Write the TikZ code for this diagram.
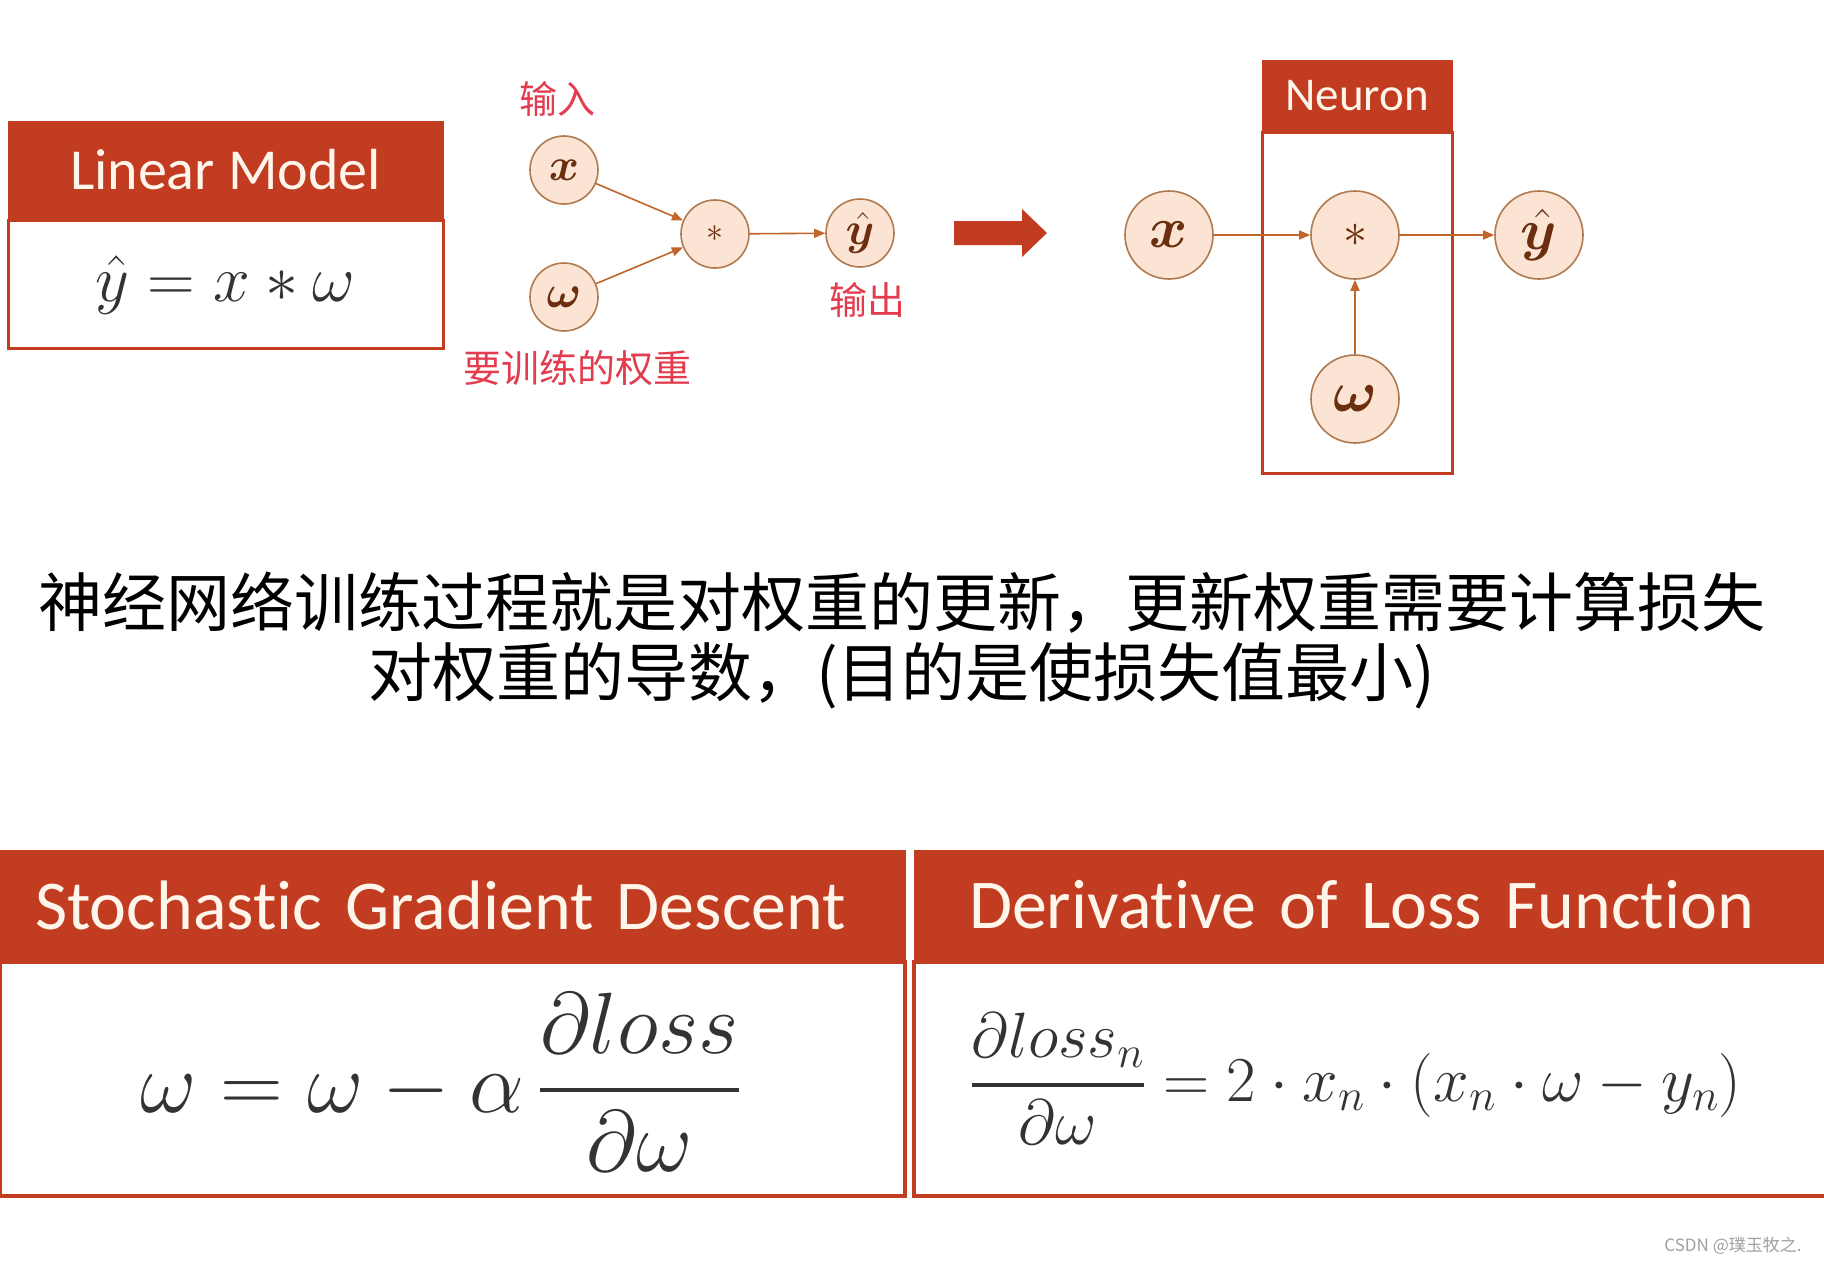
\documentclass[tikz,border=0pt]{standalone}
\usepackage{fix-cm}
\usepackage{amsmath,bm}
\usepackage{fontspec}
\newfontfamily\cjk{Noto Sans CJK SC}
\newfontfamily\hdfont[Ligatures={NoCommon,NoContextual}]{Carlito}
\usetikzlibrary{positioning,arrows.meta}

\definecolor{hdred}{RGB}{194,60,34}
\definecolor{hdtext}{RGB}{255,246,235}
\definecolor{peach}{RGB}{251,228,212}
\definecolor{ringbrown}{RGB}{176,122,80}
\definecolor{arrorange}{RGB}{192,102,42}
\definecolor{glyphbrown}{RGB}{107,46,14}
\definecolor{tagred}{RGB}{226,60,78}
\definecolor{mathgray}{RGB}{51,51,51}

\newcommand\setfs[1]{\fontsize{#1}{#1}\selectfont}

\begin{document}
\begin{tikzpicture}[
    x=1pt, y=-1pt,
    hdr/.style={
        fill=hdred,
        draw=hdred,
        text=hdtext,
        inner sep=0pt
    },
    panel/.style={
        draw=hdred,
        line width=3pt,
        fill=white,
        inner sep=0pt
    },
    unit/.style={
        circle,
        draw=ringbrown,
        fill=peach,
        line width=1.6pt,
        inner sep=0pt,
        text=glyphbrown
    },
    tag/.style={text=tagred, font=\cjk\setfs{38}, inner sep=0pt},
    eq/.style={text=mathgray, inner sep=0pt},
    flow/.style={-{Triangle[length=11pt, width=9pt]}, draw=arrorange, line width=1.6pt}
]
    \useasboundingbox (0,0) rectangle (1824,1264);
    \clip (0,0) rectangle (1824,1264);

    %% Linear Model
    \node[hdr, minimum width=435pt, minimum height=98pt, font=\hdfont\setfs{58}] (lmhead) at (225.5,170) {Linear Model};
    \node[panel, minimum width=435pt, minimum height=128pt, below=0pt of lmhead, text=mathgray, font=\setfs{66}] (lmbody) {$\hat{y} = x * \omega$};

    %% Graph
    \node[unit, minimum size=68pt, font=\setfs{46}] (xin) at (564,170) {$\bm{x}$};
    \node[unit, minimum size=68pt, font=\setfs{46}] (win) at (564,297) {$\bm{\omega}$};
    \node[unit, minimum size=68pt, font=\setfs{34}] (mulin) at (715,234) {$*$};
    \node[unit, minimum size=68pt, font=\setfs{46}] (yin) at (860,233) {$\bm{\hat{y}}$};
    \node[tag] (inlabel) at (557,99) {输入};
    \node[tag] (outlabel) at (867,300) {输出};
    \node[tag] (wlabel) at (577,368) {要训练的权重};

    \draw[flow] (xin) -- (mulin);
    \draw[flow] (win) -- (mulin);
    \draw[flow] (mulin) -- (yin);

    %% Big arrow
    \fill[hdred] (954,221) -- (1022,221) -- (1022,209) -- (1047,233) -- (1022,257) -- (1022,245) -- (954,245) -- cycle;

    %% Neuron
    \node[hdr, minimum width=190pt, minimum height=71pt, font=\hdfont\setfs{47}] (nhead) at (1357,95.5) {Neuron};
    \node[panel, minimum width=190pt, minimum height=341pt, below=0pt of nhead] (nbody) {};

    \node[unit, minimum size=88pt, font=\setfs{58}] (xout) at (1169,235) {$\bm{x}$};
    \node[unit, minimum size=88pt, font=\setfs{48}] (mulout) at (1355,235) {$*$};
    \node[unit, minimum size=88pt, font=\setfs{58}] (yout) at (1539,235) {$\bm{\hat{y}}$};
    \node[unit, minimum size=88pt, font=\setfs{58}] (wout) at (1355,399) {$\bm{\omega}$};

    \draw[flow] (xout) -- (mulout);
    \draw[flow] (mulout) -- (yout);
    \draw[flow] (wout) -- (mulout);

    %% Text
    \node[font=\cjk\fontsize{64}{70}\selectfont, align=center, inner sep=0pt] (summary) at (902,640)
        {神经网络训练过程就是对权重的更新，更新权重需要计算损失\\对权重的导数，(目的是使损失值最小)};

    %% SGD
    \node[hdr, minimum width=905pt, minimum height=110pt, text width=835pt, align=left, font=\hdfont\setfs{70}] (sgdhead) at (452.5,905) {Stochastic Gradient Descent};
    \node[panel, line width=4pt, minimum width=905pt, minimum height=234pt, below=0pt of sgdhead] (sgdbody) {};
    \node[eq, anchor=base, font=\setfs{87}] (sgdeq) at (440,1112)
        {$\displaystyle \omega = \omega - \alpha\,\genfrac{}{}{4pt}{0}{\partial loss}{\partial \omega}$};

    %% Derivative
    \node[hdr, minimum width=920pt, minimum height=110pt, text width=810pt, align=left, font=\hdfont\setfs{70}] (dlfhead) at (1374,905) {Derivative of Loss Function};
    \node[panel, line width=4pt, minimum width=920pt, minimum height=234pt, below=0pt of dlfhead] (dlfbody) {};
    \node[eq, anchor=base, font=\setfs{64}] (dlfeq) at (1356,1101)
        {$\displaystyle \genfrac{}{}{3.5pt}{0}{\partial loss_n}{\partial \omega} = 2\cdot x_n\cdot (x_n\cdot\omega - y_n)$};

    \node[text=gray!75, font=\cjk\setfs{17}, inner sep=0pt] (mark) at (1733,1246) {CSDN @璞玉牧之.};
\end{tikzpicture}
\end{document}
